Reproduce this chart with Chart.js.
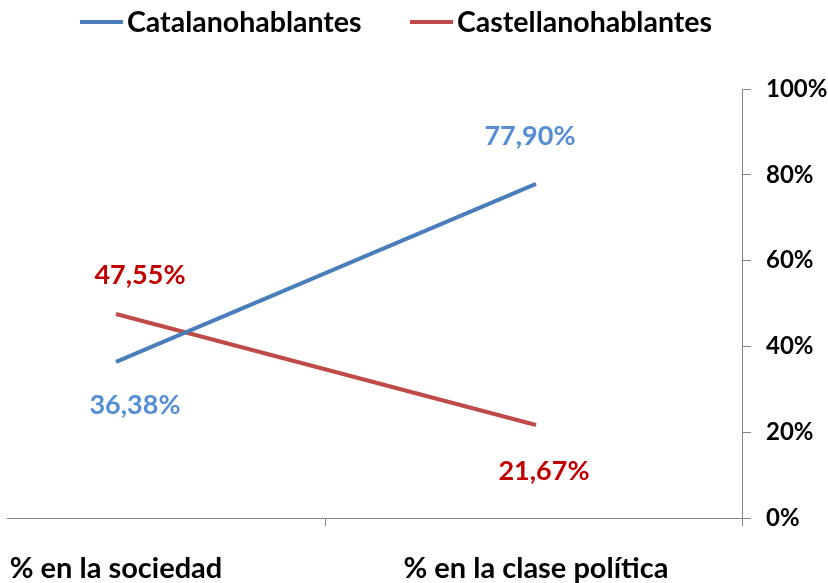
<!DOCTYPE html>
<html>
<head>
<meta charset="utf-8">
<script src="https://cdn.jsdelivr.net/npm/chart.js@4"></script>
<style>
    html, body { margin: 0; padding: 0; background: #fff; }
    #grafico { display: block; }
</style>
</head>
<body>
<canvas id="grafico" width="828" height="583"></canvas>
<script>
const categorias = ['% en la sociedad', '% en la clase política']
const catalanohablantes = [36.38, 77.90]
const castellanohablantes = [47.55, 21.67]
const series_nombres = ['Catalanohablantes', 'Castellanohablantes']
const ticks_y = [0, 20, 40, 60, 80, 100]

const FONT = 'Lato, "Open Sans", sans-serif'
const GRIS = '#868686'

const to_points = valores => valores.map((v, i) => ({ x: i, y: v }))
const fmt = v => v.toFixed(2).replace('.', ',') + '%'

// etiquetas de datos, estilo excel (sin plugin externo)
const etiquetas = {
    id: 'etiquetas',
    afterDatasetsDraw(chart, args, opts) {
        const ctx = chart.ctx
        ctx.save()
        ctx.font = 'bold 27px ' + FONT
        ctx.textAlign = 'center'
        ctx.textBaseline = 'middle'
        chart.data.datasets.forEach((ds, d) => {
            const meta = chart.getDatasetMeta(d)
            ctx.fillStyle = opts.colores[d]
            meta.data.forEach((pt, i) => {
                const off = opts.offsets[d][i]
                ctx.fillText(fmt(ds.data[i].y), pt.x + off[0], pt.y + off[1])
            })
        })
        ctx.restore()
    }
}

const leyenda = {
    id: 'leyenda',
    afterDraw(chart, args, opts) {
        const ctx = chart.ctx
        ctx.save()
        ctx.font = 'bold 28.5px ' + FONT
        ctx.textBaseline = 'middle'
        ctx.textAlign = 'left'
        chart.data.datasets.forEach((ds, d) => {
            let x = opts.x[d]
            ctx.strokeStyle = ds.borderColor
            ctx.lineWidth = 4
            ctx.beginPath()
            ctx.moveTo(x, opts.y)
            ctx.lineTo(x + 43, opts.y)
            ctx.stroke()
            ctx.fillStyle = '#000'
            ctx.fillText(ds.label, x + 47, opts.y + 1)
        })
        ctx.restore()
    }
}

const ctx = document.getElementById('grafico').getContext('2d')
const grafico = new Chart(ctx, {
    type: 'line',
    data: {
        datasets: [
            {
                label: series_nombres[0],
                data: to_points(catalanohablantes),
                borderColor: '#4A7EBB',
                backgroundColor: '#4A7EBB',
                borderWidth: 4,
                pointRadius: 0,
                tension: 0,
            },
            {
                label: series_nombres[1],
                data: to_points(castellanohablantes),
                borderColor: '#BE4B48',
                backgroundColor: '#BE4B48',
                borderWidth: 4,
                pointRadius: 0,
                tension: 0,
            }
        ]
    },
    options: {
        responsive: false,
        animation: false,
        layout: { padding: { left: 7, top: 89, right: 0, bottom: 0 } },
        plugins: {
            legend: { display: false },
            tooltip: { enabled: false },
            etiquetas: {
                colores: ['#558ED5', '#C00000'],
                offsets: [[[19, 43], [-6, -48]], [[24, -39], [8, 46]]]
            },
            leyenda: { x: [80, 410], y: 22 }
        },
        scales: {
            x: {
                type: 'linear',
                min: -0.2595,
                max: 1.4905,
                afterBuildTicks(scale) {
                    scale.ticks = [0, 0.5, 1, scale.max].map(v => ({ value: v }))
                },
                afterFit(scale) {
                    scale.height = 65
                    scale.paddingLeft = 0
                    scale.paddingRight = 0
                },
                border: { display: true, color: GRIS, width: 1 },
                grid: {
                    drawOnChartArea: false,
                    tickLength: 8,
                    color: c => (c.tick && (c.tick.value === 0 || c.tick.value === 1)) ? 'rgba(0,0,0,0)' : GRIS,
                },
                ticks: {
                    autoSkip: false,
                    maxRotation: 0,
                    padding: 25,
                    color: '#000',
                    font: { family: FONT, size: 29, weight: 'bold' },
                    callback: v => (v === 0 || v === 1) ? categorias[v] : ''
                }
            },
            y: {
                position: 'right',
                min: 0,
                max: 100,
                afterBuildTicks(scale) {
                    scale.ticks = ticks_y.map(v => ({ value: v }))
                },
                afterFit(scale) { scale.width = 86 },
                border: { display: true, color: GRIS, width: 1 },
                grid: { drawOnChartArea: false, tickLength: 9, color: GRIS },
                ticks: {
                    padding: 15,
                    color: '#000',
                    font: { family: FONT, size: 24, weight: 'bold' },
                    callback: v => v + '%'
                }
            }
        }
    },
    plugins: [etiquetas, leyenda]
})

globalThis.grafico = grafico
</script>
</body>
</html>
